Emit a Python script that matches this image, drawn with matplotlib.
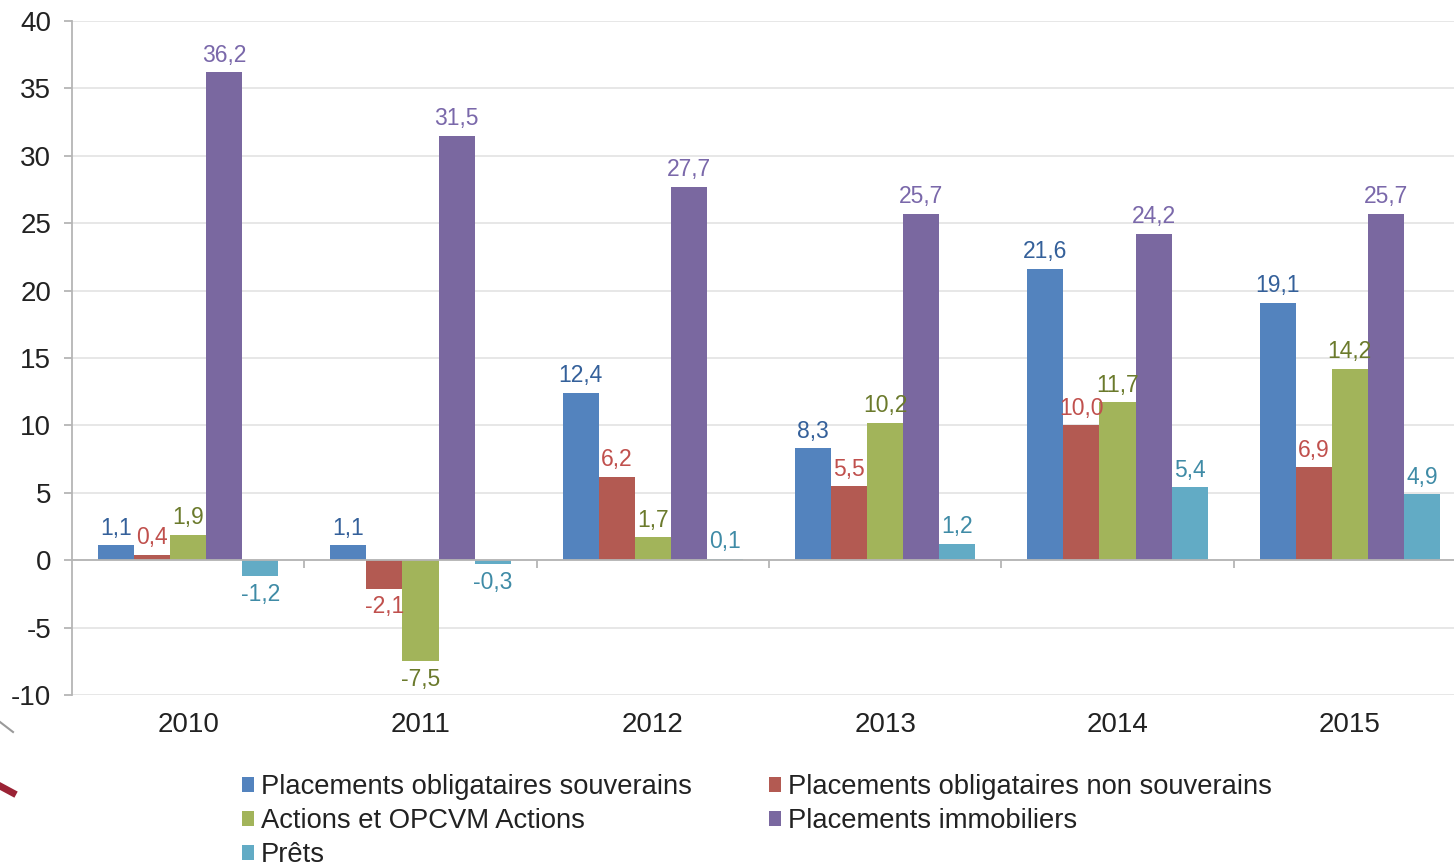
import matplotlib
matplotlib.use("Agg")
import matplotlib.pyplot as plt
from matplotlib.patches import Patch
from matplotlib.lines import Line2D
import numpy as np

plt.rcParams['font.family'] = ['Liberation Sans', 'DejaVu Sans']
plt.rcParams['axes.unicode_minus'] = False

years = ["2010", "2011", "2012", "2013", "2014", "2015"]
series_names = ["Placements obligataires souverains",
                "Placements obligataires non souverains",
                "Actions et OPCVM Actions",
                "Placements immobiliers",
                "Prêts"]
souverains = [1.1, 1.1, 12.4, 8.3, 21.6, 19.1]
non_souverains = [0.4, -2.1, 6.2, 5.5, 10.0, 6.9]
actions = [1.9, -7.5, 1.7, 10.2, 11.7, 14.2]
immobiliers = [36.2, 31.5, 27.7, 25.7, 24.2, 25.7]
prets = [-1.2, -0.3, 0.1, 1.2, 5.4, 4.9]
series = [souverains, non_souverains, actions, immobiliers, prets]

bar_colors = ["#5383be", "#b35a52", "#a2b45a", "#7a68a0", "#62abc5"]
label_colors = ["#34609a", "#c0504d", "#6b7a2c", "#7a68aa", "#3f8ba6"]

W, H = 1454, 863
fig = plt.figure(figsize=(W / 100, H / 100), dpi=100)
ax = fig.add_axes([72 / W, 1 - 695 / H, 1394 / W, 674 / H])

x = np.arange(len(years))
bw = 0.155
for i, (vals, bc, lc) in enumerate(zip(series, bar_colors, label_colors)):
    pos = x + (i - 2) * bw
    ax.bar(pos, vals, width=bw, color=bc, zorder=3, linewidth=0)
    for xp, v in zip(pos, vals):
        txt = f"{v:.1f}".replace(".", ",")
        if v >= 0:
            ax.annotate(txt, (xp, v), xytext=(0, 4), textcoords="offset points",
                        ha="center", va="bottom", color=lc, fontsize=16.5, zorder=5)
        else:
            ax.annotate(txt, (xp, v), xytext=(0, -5), textcoords="offset points",
                        ha="center", va="top", color=lc, fontsize=16.5, zorder=5)

ax.set_xlim(-0.5, len(years) - 0.5)
ax.set_ylim(-10, 40)
ax.set_yticks(np.arange(-10, 41, 5))
ax.yaxis.grid(True, color="#e3e3e3", linewidth=1.2, zorder=0)
ax.set_axisbelow(True)
ax.axhline(0, color="#b5b5b5", linewidth=1.3, zorder=4)
ax.vlines(x[:-1] + 0.5, -0.6, 0, color="#b5b5b5", linewidth=1.3, zorder=4)

for s in ["top", "right", "bottom"]:
    ax.spines[s].set_visible(False)
ax.spines["left"].set_color("#b5b5b5")
ax.spines["left"].set_linewidth(1.3)

ax.set_xticks(x)
ax.set_xticklabels(years)
ax.tick_params(axis="x", length=0, pad=12, labelsize=20, labelcolor="#222222")
ax.tick_params(axis="y", length=6, width=1.3, color="#b5b5b5", pad=9,
               labelsize=20, labelcolor="#222222")

handles = [Patch(facecolor=c, edgecolor="none") for c in bar_colors]
order = [0, 2, 4, 1, 3]
leg = fig.legend([handles[i] for i in order], [series_names[i] for i in order],
                 loc="upper left", bbox_to_anchor=(242 / W, 1 - 774 / H),
                 ncol=2, frameon=False, fontsize=19.7, handlelength=0.45,
                 handleheight=0.45, handletextpad=0.25, columnspacing=2.8,
                 labelspacing=0.3, borderaxespad=0, borderpad=0)
for t in leg.get_texts():
    t.set_color("#222222")

# decorative remnants at the left edge
fig.add_artist(Line2D([0, 13 / W], [1 - 722 / H, 1 - 732 / H], color="#9a9a9a", linewidth=1.5))
fig.add_artist(Line2D([0, 13 / W], [1 - 786 / H, 1 - 793 / H], color="#9b2335", linewidth=5))

fig.savefig("out.png", dpi=100)
